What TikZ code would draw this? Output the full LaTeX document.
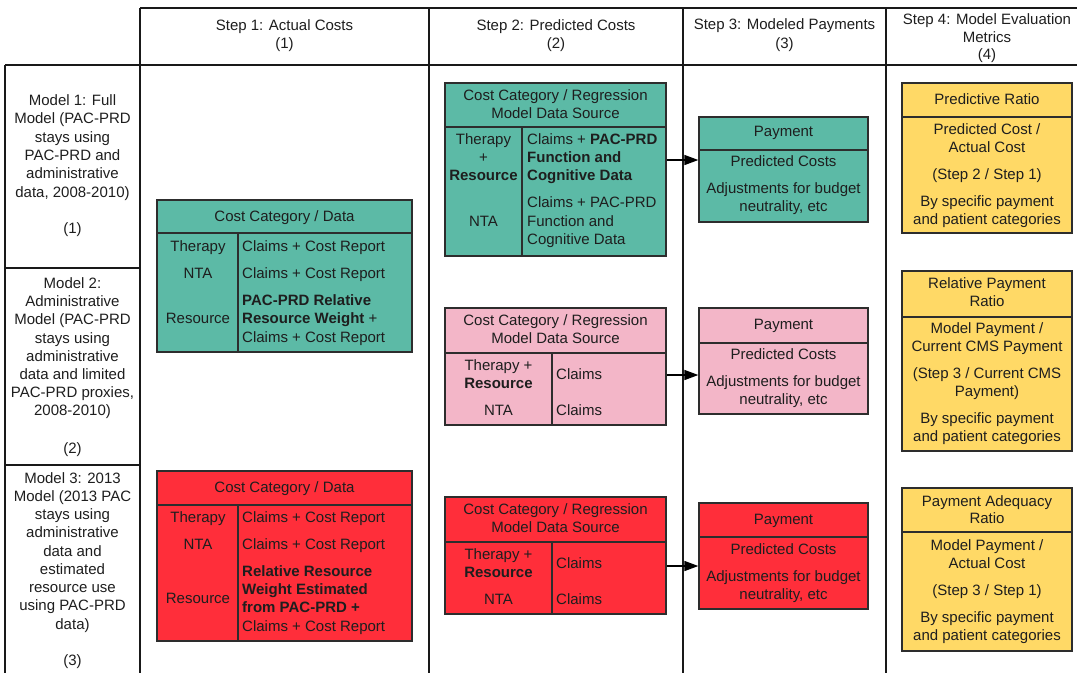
\documentclass[tikz,border=0pt]{standalone}
\usepackage{fontspec}
\setmainfont{Liberation Sans}
\usetikzlibrary{arrows.meta,fit}
\definecolor{cteal}{RGB}{92,186,166}
\definecolor{cpink}{RGB}{243,182,200}
\definecolor{cred}{RGB}{255,46,58}
\definecolor{cyel}{RGB}{255,217,102}
\definecolor{cline}{RGB}{25,25,25}
\definecolor{cbord}{RGB}{45,45,45}
\definecolor{ctext}{RGB}{30,30,30}
\newcommand\mytxt[4][]{\node[txt,#1] (#2) at (#3) {#4};}
\newcommand\ltxt[3]{\node[txt,anchor=base west] (#1) at (#2) {#3};}
\begin{document}
\begin{tikzpicture}[x=1pt,y=-1pt,
  txt/.style={font=\fontsize{15}{18.3}\selectfont,inner sep=0pt,anchor=base,text=ctext},
  grid/.style={draw=cline,line width=1.6pt},
  boxn/.style={draw=cbord,line width=1.3pt,inner sep=0pt},
  div/.style={draw=cbord,line width=1.3pt},
  arr/.style={draw=black,line width=1.5pt,-{Triangle[length=14pt,width=10pt]}}]
\useasboundingbox (0,0) rectangle (1077,673);
\fill[white] (0,0) rectangle (1077,673);
% grid
\draw[grid] (140,8) -- (1077,8);
\draw[grid] (5,65) -- (1077,65);
\draw[grid] (5,65) -- (5,673);
\draw[grid] (5,268) -- (140,268);
\draw[grid] (5,465) -- (140,465);
\foreach \xx in {140,429,683,886} {\draw[grid] (\xx,8) -- (\xx,673);}
% header texts
\mytxt{h1a}{284.5,30}{Step 1: Actual Costs}
\mytxt{h1b}{284.5,48}{(1)}
\mytxt{h2a}{556,30}{Step 2: Predicted Costs}
\mytxt{h2b}{556,48}{(2)}
\mytxt{h3a}{784.5,29}{Step 3: Modeled Payments}
\mytxt{h3b}{784.5,48}{(3)}
\mytxt{h4a}{987,24}{Step 4: Model Evaluation}
\mytxt{h4b}{987,42}{Metrics}
\mytxt{h4c}{987,59}{(4)}
% left column
\mytxt{m1a}{72.5,105}{Model 1: Full}
\mytxt{m1b}{72.5,123}{Model (PAC-PRD}
\mytxt{m1c}{72.5,142}{stays using}
\mytxt{m1d}{72.5,160}{PAC-PRD and}
\mytxt{m1e}{72.5,178}{administrative}
\mytxt{m1f}{72.5,197}{data, 2008-2010)}
\mytxt{m1g}{72.5,233}{(1)}
\mytxt{m2a}{72.5,288}{Model 2:}
\mytxt{m2b}{72.5,306}{Administrative}
\mytxt{m2c}{72.5,324}{Model (PAC-PRD}
\mytxt{m2d}{72.5,343}{stays using}
\mytxt{m2e}{72.5,361}{administrative}
\mytxt{m2f}{72.5,379}{data and limited}
\mytxt{m2g}{72.5,397}{PAC-PRD proxies,}
\mytxt{m2h}{72.5,415}{2008-2010)}
\mytxt{m2i}{72.5,453}{(2)}
\mytxt{m3a}{72.5,483}{Model 3: 2013}
\mytxt{m3b}{72.5,501}{Model (2013 PAC}
\mytxt{m3c}{72.5,519}{stays using}
\mytxt{m3d}{72.5,537}{administrative}
\mytxt{m3e}{72.5,556}{data and}
\mytxt{m3f}{72.5,574}{estimated}
\mytxt{m3g}{72.5,592}{resource use}
\mytxt{m3h}{72.5,610}{using PAC-PRD}
\mytxt{m3i}{72.5,629}{data)}
\mytxt{m3j}{72.5,665}{(3)}
% ---------- Step 1 teal
\node[boxn,fill=cteal,fit={(157,200) (412,352)}] (s1t) {};
\draw[div] (157,233) -- (412,233);
\draw[div] (238,233) -- (238,352);
\mytxt{s1ta}{284.5,221}{Cost Category / Data}
\mytxt{s1tb}{198,251}{Therapy}
\mytxt{s1tc}{198,278}{NTA}
\mytxt{s1td}{198,323}{Resource}
\ltxt{s1te}{242,251}{Claims + Cost Report}
\ltxt{s1tf}{242,278}{Claims + Cost Report}
\ltxt{s1tg}{242,305}{\textbf{PAC-PRD Relative}}
\ltxt{s1th}{242,323}{\textbf{Resource Weight} +}
\ltxt{s1ti}{242,342}{Claims + Cost Report}
% ---------- Step 1 red
\node[boxn,fill=cred,fit={(157,471) (412,641)}] (s1r) {};
\draw[div] (157,505) -- (412,505);
\draw[div] (238,505) -- (238,641);
\mytxt{s1ra}{284.5,492}{Cost Category / Data}
\mytxt{s1rb}{198,522}{Therapy}
\mytxt{s1rc}{198,549}{NTA}
\mytxt{s1rd}{198,603}{Resource}
\ltxt{s1re}{242,522}{Claims + Cost Report}
\ltxt{s1rf}{242,549}{Claims + Cost Report}
\ltxt{s1rg}{242,576}{\textbf{Relative Resource}}
\ltxt{s1rh}{242,594}{\textbf{Weight Estimated}}
\ltxt{s1ri}{242,612}{\textbf{from PAC-PRD +}}
\ltxt{s1rj}{242,631}{Claims + Cost Report}
% ---------- Step 2 teal
\node[boxn,fill=cteal,fit={(445,83) (666,256)}] (s2t) {};
\draw[div] (445,127) -- (666,127);
\draw[div] (522,127) -- (522,256);
\mytxt{s2ta}{555.5,100}{Cost Category / Regression}
\mytxt{s2tb}{555.5,118}{Model Data Source}
\mytxt{s2tc}{483.5,144}{Therapy}
\mytxt{s2td}{483.5,162}{+}
\mytxt{s2te}{483.5,180}{\textbf{Resource}}
\mytxt{s2tf}{483.5,226}{NTA}
\ltxt{s2tg}{527,144}{Claims + \textbf{PAC-PRD}}
\ltxt{s2th}{527,162}{\textbf{Function and}}
\ltxt{s2ti}{527,180}{\textbf{Cognitive Data}}
\ltxt{s2tj}{527,207}{Claims + PAC-PRD}
\ltxt{s2tk}{527,226}{Function and}
\ltxt{s2tl}{527,244}{Cognitive Data}
% ---------- Step 2 pink
\node[boxn,fill=cpink,fit={(445,308) (666,425)}] (s2p) {};
\draw[div] (445,353) -- (666,353);
\draw[div] (552,353) -- (552,425);
\mytxt{s2pa}{555.5,325}{Cost Category / Regression}
\mytxt{s2pb}{555.5,343}{Model Data Source}
\mytxt{s2pc}{498.5,370}{Therapy +}
\mytxt{s2pd}{498.5,388}{\textbf{Resource}}
\mytxt{s2pe}{498.5,415}{NTA}
\ltxt{s2pf}{556,379}{Claims}
\ltxt{s2pg}{556,415}{Claims}
% ---------- Step 2 red
\node[boxn,fill=cred,fit={(445,497) (666,614)}] (s2r) {};
\draw[div] (445,542) -- (666,542);
\draw[div] (552,542) -- (552,614);
\mytxt{s2ra}{555.5,514}{Cost Category / Regression}
\mytxt{s2rb}{555.5,532}{Model Data Source}
\mytxt{s2rc}{498.5,559}{Therapy +}
\mytxt{s2rd}{498.5,577}{\textbf{Resource}}
\mytxt{s2re}{498.5,604}{NTA}
\ltxt{s2rf}{556,568}{Claims}
\ltxt{s2rg}{556,604}{Claims}
% ---------- Step 3
\node[boxn,fill=cteal,fit={(699,117) (868,222)}] (s3t) {};
\draw[div] (699,150) -- (868,150);
\mytxt{s3ta}{783.5,136}{Payment}
\mytxt{s3tb}{783.5,166}{Predicted Costs}
\mytxt{s3tc}{783.5,193}{Adjustments for budget}
\mytxt{s3td}{783.5,211}{neutrality, etc}
\node[boxn,fill=cpink,fit={(699,308) (868,414)}] (s3p) {};
\draw[div] (699,343) -- (868,343);
\mytxt{s3pa}{783.5,329}{Payment}
\mytxt{s3pb}{783.5,359}{Predicted Costs}
\mytxt{s3pc}{783.5,386}{Adjustments for budget}
\mytxt{s3pd}{783.5,404}{neutrality, etc}
\node[boxn,fill=cred,fit={(699,503) (868,609)}] (s3r) {};
\draw[div] (699,537) -- (868,537);
\mytxt{s3ra}{783.5,524}{Payment}
\mytxt{s3rb}{783.5,554}{Predicted Costs}
\mytxt{s3rc}{783.5,581}{Adjustments for budget}
\mytxt{s3rd}{783.5,599}{neutrality, etc}
% arrows
\coordinate (a1) at (0,160);
\coordinate (a2) at (0,375);
\coordinate (a3) at (0,566);
\draw[arr] (s2t.east |- a1) -- (s3t.west |- a1);
\draw[arr] (s2p.east |- a2) -- (s3p.west |- a2);
\draw[arr] (s2r.east |- a3) -- (s3r.west |- a3);
% ---------- Step 4
\node[boxn,fill=cyel,fit={(902,83) (1072,233)}] (s4a) {};
\draw[div] (902,117) -- (1072,117);
\mytxt{s4aa}{987,104}{Predictive Ratio}
\mytxt{s4ab}{987,134}{Predicted Cost /}
\mytxt{s4ac}{987,152}{Actual Cost}
\mytxt{s4ad}{987,179}{(Step 2 / Step 1)}
\mytxt{s4ae}{987,206}{By specific payment}
\mytxt{s4af}{987,224}{and patient categories}
\node[boxn,fill=cyel,fit={(902,271) (1072,451)}] (s4b) {};
\draw[div] (902,317) -- (1072,317);
\mytxt{s4ba}{987,288}{Relative Payment}
\mytxt{s4bb}{987,306}{Ratio}
\mytxt{s4bc}{987,333}{Model Payment /}
\mytxt{s4bd}{987,351}{Current CMS Payment}
\mytxt{s4be}{987,378}{(Step 3 / Current CMS}
\mytxt{s4bf}{987,396}{Payment)}
\mytxt{s4bg}{987,423}{By specific payment}
\mytxt{s4bh}{987,441}{and patient categories}
\node[boxn,fill=cyel,fit={(902,488) (1072,651)}] (s4c) {};
\draw[div] (902,532) -- (1072,532);
\mytxt{s4ca}{987,506}{Payment Adequacy}
\mytxt{s4cb}{987,523}{Ratio}
\mytxt{s4cc}{987,550}{Model Payment /}
\mytxt{s4cd}{987,568}{Actual Cost}
\mytxt{s4ce}{987,595}{(Step 3 / Step 1)}
\mytxt{s4cf}{987,622}{By specific payment}
\mytxt{s4cg}{987,640}{and patient categories}
\end{tikzpicture}
\end{document}
